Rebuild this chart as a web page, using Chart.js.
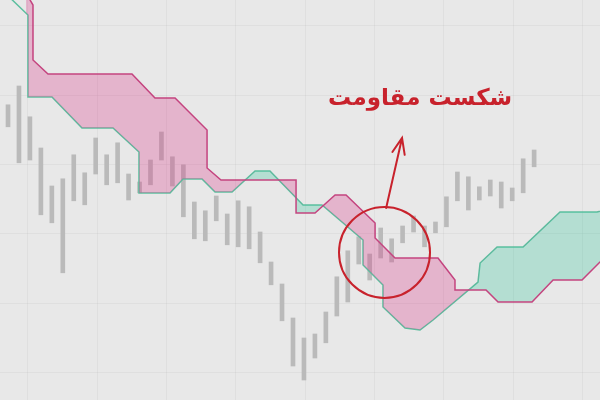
<!DOCTYPE html>
<html>
<head>
<meta charset="utf-8">
<script src="https://cdn.jsdelivr.net/npm/chart.js@4.4.0/dist/chart.umd.min.js"></script>
<style>
  body { margin: 0; background: #e8e8e8; }
  #wrap { width: 600px; height: 400px; }
</style>
</head>
<body>
<div id="wrap"><canvas id="ichimoku" width="600" height="400"></canvas></div>
<script>
// price bars, one per period (high / low)
var barHigh = [73.8, 78.5, 70.8, 63, 53.5, 55.3, 61.3, 56.8, 65.5, 61.3,
               64.3, 56.5, 54.5, 60, 67, 60.8, 58.8, 49.5, 47.3, 51,
               46.5, 49.8, 48.3, 42, 34.5, 29, 20.5, 15.5, 16.5, 22,
               30.8, 37.3, 40.8, 36.5, 43, 40.3, 43.5, 46, 43.5, 44.5,
               50.8, 57, 55.8, 53.3, 55, 54.5, 53, 60.3, 62.5];
var barLow  = [68.3, 59.3, 60, 46.3, 44.3, 31.8, 49.8, 48.8, 56.5, 53.8,
               54.3, 50, 51.8, 53.8, 60, 53.5, 45.8, 40.3, 39.8, 44.8,
               38.8, 38.3, 37.8, 34.3, 28.8, 19.8, 8.5, 5, 10.5, 14.3,
               21, 24.5, 34, 30, 35.5, 34.5, 39.3, 42, 38.3, 41.8,
               43.3, 49.8, 47.5, 50, 51, 48, 49.8, 51.8, 58.3];

// leading spans of the cloud, [period, price]
var spanA = [[-0.27, 101.75], [1.82, 96.25], [1.82, 75.75], [4.01, 75.75], [6.75, 68],
             [9.58, 68], [11.95, 62], [11.95, 51.75], [14.78, 51.75], [15.97, 55.25],
             [17.7, 55.25], [18.89, 52], [20.44, 52], [22.54, 57.25], [23.9, 57.25],
             [26.92, 48.75], [28.65, 48.75], [32.39, 40], [32.39, 33.75], [34.21, 28.75],
             [34.21, 23.25], [36.22, 18], [37.59, 17.5], [38.78, 20], [42.88, 29.5],
             [43.07, 34.25], [44.62, 38.25], [46.99, 38.25], [50.36, 47], [53.74, 47],
             [54.93, 47.75]];
var spanB = [[1.64, 101.75], [2.28, 98.75], [2.28, 85], [3.65, 81.5], [11.31, 81.5],
             [13.41, 75.5], [15.24, 75.5], [18.16, 67.5], [18.16, 58], [19.43, 55],
             [26.28, 55], [26.28, 46.75], [28.01, 46.75], [29.84, 51.25], [30.84, 51.25],
             [33.49, 44.25], [33.49, 40.5], [35.31, 35.5], [39.23, 35.5], [40.78, 30],
             [40.78, 27.5], [43.61, 27.5], [44.71, 24.5], [47.81, 24.5], [49.73, 30],
             [52.37, 30], [54.93, 37]];

// note on the chart
var noteText = "شکست مقاومت";
var noteTextAt = [37.6, 75.2];
var noteCircle = [34.35, 36.9];
var noteArrow = [[34.5, 48], [35.95, 65.5]];

var toXY = function(pairs) {
    return pairs.map(p => ({x: p[0], y: p[1]}));
};

var bars = [];
for (i = 0; i < barHigh.length; i++) {
    bars.push({x: i, y: [barLow[i], barHigh[i]]});
}

var background = {
    id: 'background',
    beforeDraw: function(chart) {
        var ctx = chart.ctx;
        ctx.save();
        ctx.fillStyle = '#e8e8e8';
        ctx.fillRect(0, 0, chart.width, chart.height);
        ctx.restore();
    }
};

var notes = {
    id: 'notes',
    afterDatasetsDraw: function(chart) {
        var ctx = chart.ctx;
        var sx = chart.scales.x, sy = chart.scales.y;
        var red = '#c8222c';
        ctx.save();

        // circle
        ctx.strokeStyle = red;
        ctx.lineWidth = 2;
        ctx.beginPath();
        ctx.arc(sx.getPixelForValue(noteCircle[0]), sy.getPixelForValue(noteCircle[1]), 45.5, 0, Math.PI * 2);
        ctx.stroke();

        // arrow
        var x0 = sx.getPixelForValue(noteArrow[0][0]), y0 = sy.getPixelForValue(noteArrow[0][1]);
        var x1 = sx.getPixelForValue(noteArrow[1][0]), y1 = sy.getPixelForValue(noteArrow[1][1]);
        var ang = Math.atan2(y1 - y0, x1 - x0);
        ctx.lineCap = 'round';
        ctx.beginPath();
        ctx.moveTo(x0, y0);
        ctx.lineTo(x1, y1);
        ctx.moveTo(x1 - 17 * Math.cos(ang - 0.38), y1 - 17 * Math.sin(ang - 0.38));
        ctx.lineTo(x1, y1);
        ctx.lineTo(x1 - 17 * Math.cos(ang + 0.38), y1 - 17 * Math.sin(ang + 0.38));
        ctx.stroke();

        // text
        ctx.fillStyle = red;
        ctx.font = 'bold 23px "DejaVu Sans"';
        ctx.textAlign = 'center';
        ctx.textBaseline = 'middle';
        ctx.fillText(noteText, sx.getPixelForValue(noteTextAt[0]), sy.getPixelForValue(noteTextAt[1]));
        ctx.restore();
    }
};

var gridLine = 'rgba(0,0,0,0.035)';

new Chart(document.getElementById("ichimoku"), {
    data: {
        datasets: [{
            type: 'bar',
            data: bars,
            backgroundColor: '#bababa',
            barThickness: 4,
            order: 3
        },
        {
            type: 'line',
            data: toXY(spanA),
            borderColor: '#5dbf9f',
            borderWidth: 1.5,
            pointRadius: 0,
            tension: 0,
            fill: false,
            order: 2
        },
        {
            type: 'line',
            data: toXY(spanB),
            borderColor: '#c4447f',
            borderWidth: 1.5,
            pointRadius: 0,
            tension: 0,
            fill: {
                target: 1,
                above: 'rgba(220,60,140,0.3)',
                below: 'rgba(60,200,160,0.3)'
            },
            order: 1
        }]
    },
    options: {
        responsive: false,
        animation: false,
        layout: { padding: 0 },
        plugins: {
            legend: { display: false },
            tooltip: { enabled: false }
        },
        scales: {
            x: { type: 'linear', min: -0.73, max: 54.01, offset: false, display: false },
            y: { type: 'linear', min: 0, max: 100, display: false },
            gx: {
                type: 'linear', position: 'bottom', min: -0.404, max: 8.254, offset: false,
                ticks: { display: false, stepSize: 1, includeBounds: false },
                grid: { color: gridLine, drawTicks: false, offset: false },
                border: { display: false }
            },
            gy: {
                type: 'linear', position: 'left', min: -0.397, max: 5.375,
                ticks: { display: false, stepSize: 1, includeBounds: false },
                grid: { color: gridLine, drawTicks: false },
                border: { display: false }
            }
        }
    },
    plugins: [background, notes]
});
</script>
</body>
</html>
